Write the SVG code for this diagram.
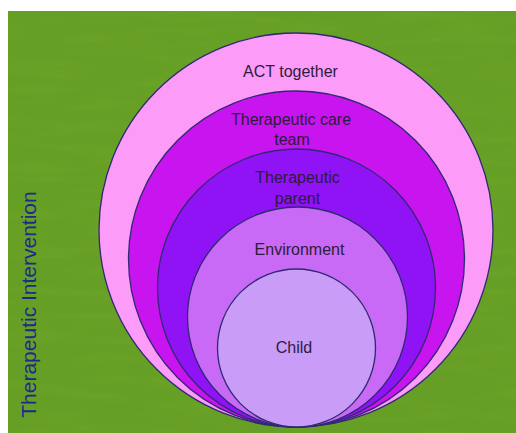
<svg xmlns="http://www.w3.org/2000/svg" width="516" height="433" viewBox="0 0 516 433">
  <style>
    .ring { stroke: #2e2a72; stroke-width: 1.3; }
    .label { font-family: "Liberation Sans", Arial, sans-serif; font-size: 16px; fill: #2d1b3d; text-anchor: middle; }
    .title { font-family: "Liberation Sans", Arial, sans-serif; font-size: 21px; fill: #1e2a8a; text-anchor: middle; }
  </style>
  <defs>
    <filter id="grain" x="0" y="0" width="100%" height="100%">
      <feTurbulence type="fractalNoise" baseFrequency="0.012 0.09" numOctaves="2" seed="3" result="noise"/>
      <feColorMatrix in="noise" type="matrix" values="0 0 0 0 0  0 0 0 0 0  0 0 0 0 0  0 0 0 0.10 0" result="shade"/>
      <feComposite in="shade" in2="SourceGraphic" operator="in" result="clip"/>
      <feMerge><feMergeNode in="SourceGraphic"/><feMergeNode in="clip"/></feMerge>
    </filter>
  </defs>

  <!-- page and green backdrop -->
  <rect x="0" y="0" width="516" height="433" fill="#ffffff"/>
  <rect x="8" y="11" width="508" height="422" fill="#6ba42c" filter="url(#grain)"/>

  <!-- nested circles, all touching at the bottom -->
  <g id="act-together">
    <circle class="ring" cx="296" cy="230" r="197" fill="#fd9bf9"/>
    <text class="label" x="290.5" y="77">ACT together</text>
  </g>
  <g id="care-team">
    <circle class="ring" cx="296.5" cy="259" r="168" fill="#c814ee"/>
    <text class="label" x="291" y="125">Therapeutic care</text>
    <text class="label" x="292" y="145">team</text>
  </g>
  <g id="therapeutic-parent">
    <circle class="ring" cx="296.5" cy="288" r="139" fill="#9013f6"/>
    <text class="label" x="297.5" y="183">Therapeutic</text>
    <text class="label" x="297.5" y="204">parent</text>
  </g>
  <g id="environment">
    <circle class="ring" cx="297.5" cy="317" r="110" fill="#c86af5"/>
    <text class="label" x="299.5" y="255">Environment</text>
  </g>
  <g id="child">
    <circle class="ring" cx="296.5" cy="348" r="79" fill="#c99cf8"/>
    <text class="label" x="294" y="353">Child</text>
  </g>

  <!-- vertical side title -->
  <g id="side-title">
    <text class="title" x="36" y="304.5" transform="rotate(-90 36 304.5)">Therapeutic Intervention</text>
  </g>

  <g id="connectors"></g>
</svg>
